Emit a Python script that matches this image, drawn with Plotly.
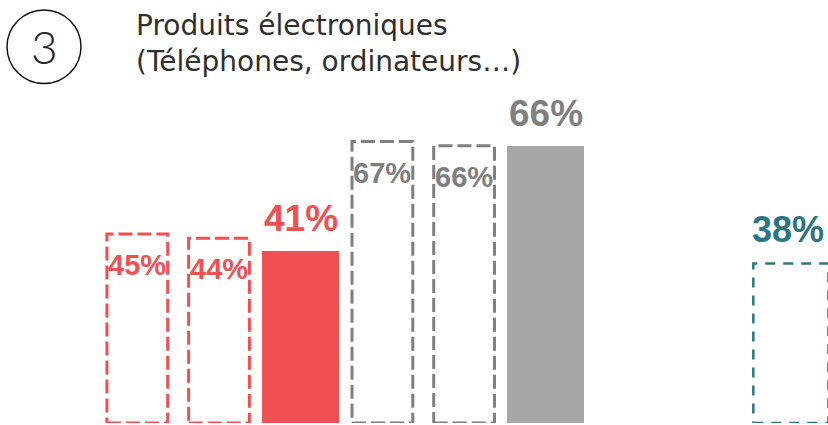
import plotly.graph_objects as go

# ---------------- data ----------------
slots = ["Rouge A", "Rouge B", "Rouge C", "Gris A", "Gris B", "Gris C", "vide 1", "vide 2", "Bleu A"]
bar_slots = ["Rouge A", "Rouge B", "Rouge C", "Gris A", "Gris B", "Gris C", "Bleu A"]
values = [45, 44, 41, 67, 66, 66, 38]
kinds = ["dashed", "dashed", "solid", "dashed", "dashed", "solid", "dashed"]
families = ["red", "red", "red", "grey", "grey", "grey", "teal"]
title_lines = ["Produits électroniques", "(Téléphones, ordinateurs…)"]
badge = "3"

# ---------------- styles ----------------
W, H = 828, 425
fill_col = {"red": "#F05052", "grey": "#A6A6A6", "teal": "#2B7585"}
line_col = {"red": "#F05052", "grey": "#7F7F7F", "teal": "#2B7585"}
text_col = {"red": "#F05052", "grey": "#7F7F7F", "teal": "#2B7585"}
dash_pat = {"red": "14px,5px", "grey": "14px,5px", "teal": "10px,8px"}
line_w = {"red": 3, "grey": 3, "teal": 2.5}
solid_width = 0.94
dashed_half = {"red": 0.372, "grey": 0.372, "teal": 0.46}
FONT = "Liberation Sans, Arial, sans-serif"

fig = go.Figure()

xs = [slots.index(s) for s in bar_slots]

# solid bars
sx = [x for x, k in zip(xs, kinds) if k == "solid"]
sv = [v for v, k in zip(values, kinds) if k == "solid"]
sc = [fill_col[f] for f, k in zip(families, kinds) if k == "solid"]
fig.add_trace(go.Bar(x=sx, y=sv, width=solid_width, marker=dict(color=sc, line=dict(width=0)),
                     hoverinfo="skip", showlegend=False))

shapes = []
annotations = []
for x, v, k, f in zip(xs, values, kinds, families):
    lab = f"{v}%"
    if k == "solid":
        annotations.append(dict(x=x, y=v, xref="x", yref="y", text=f"<b>{lab}</b>", showarrow=False,
                                yanchor="bottom", xanchor="center", yshift=10,
                                font=dict(family=FONT, size=37, color=text_col[f])))
    else:
        hw = dashed_half[f]
        shapes.append(dict(type="rect", xref="x", yref="y", x0=x - hw, x1=x + hw, y0=0, y1=v,
                           line=dict(color=line_col[f], width=line_w[f], dash=dash_pat[f]),
                           fillcolor="rgba(0,0,0,0)", layer="above"))
        if f == "teal":
            annotations.append(dict(x=x, y=v, xref="x", yref="y", text=f"<b>{lab}</b>", showarrow=False,
                                    yanchor="bottom", xanchor="center", yshift=11, xshift=-3,
                                    font=dict(family=FONT, size=36, color=text_col[f])))
        else:
            annotations.append(dict(x=x, y=v, xref="x", yref="y", text=f"<b>{lab}</b>", showarrow=False,
                                    yanchor="top", xanchor="center", yshift=-13,
                                    font=dict(family=FONT, size=29, color=text_col[f])))

# title
annotations.append(dict(x=134 / W, y=1 - 7 / H, xref="paper", yref="paper", xanchor="left", yanchor="top",
                        text="<br>".join(title_lines), align="left", showarrow=False,
                        font=dict(family="DejaVu Sans, sans-serif", size=28, color="#2E2E2E")))
# badge
shapes.append(dict(type="circle", xref="paper", yref="paper", x0=7 / W, x1=81 / W,
                   y0=1 - 84 / H, y1=1 - 10 / H, line=dict(color="#111111", width=1.5)))
annotations.append(dict(x=44 / W, y=1 - 47 / H, xref="paper", yref="paper", xanchor="center", yanchor="middle",
                        text=badge, showarrow=False,
                        font=dict(family="Lato, Open Sans, sans-serif", size=46, color="#222222", weight=300)))

spacing = 81.7
x0px = 137.3
fig.update_layout(
    width=W, height=H,
    margin=dict(l=0, r=0, t=0, b=2),
    paper_bgcolor="white", plot_bgcolor="white",
    xaxis=dict(range=[-x0px / spacing, (W - x0px) / spacing], visible=False, fixedrange=True),
    yaxis=dict(range=[0, 423 / 4.2], visible=False, fixedrange=True),
    shapes=shapes, annotations=annotations, bargap=0,
)

fig.write_html("out.html", config={"displayModeBar": False, "staticPlot": True},
               post_script="document.body.style.margin='0px';document.body.style.overflow='hidden';")
